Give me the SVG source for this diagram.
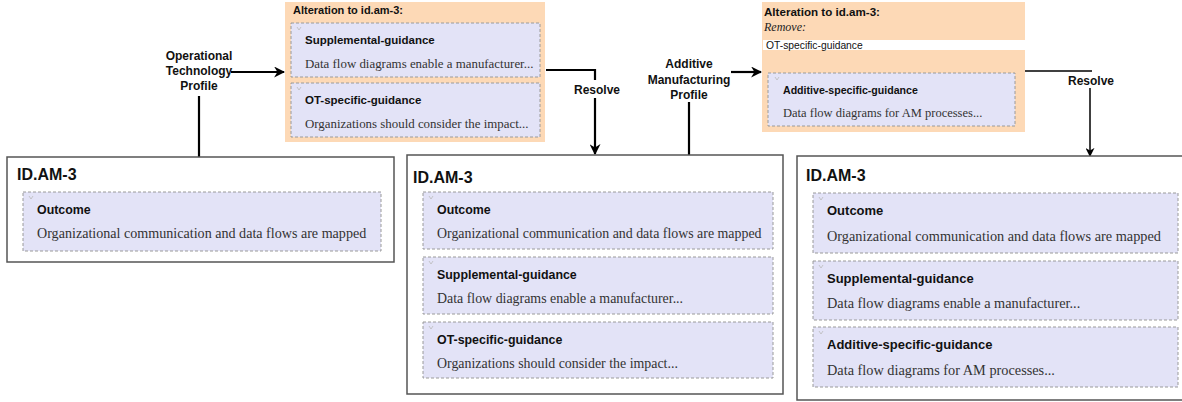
<svg xmlns="http://www.w3.org/2000/svg" width="1182" height="402" viewBox="0 0 1182 402">
<defs>
<style>
.box{fill:#fff;stroke:#555;stroke-width:1.5}
.alt{fill:#fdd9b6;stroke:none}
.pan{fill:#e3e3f7;stroke:#9a9a9a;stroke-width:1;stroke-dasharray:3 2}
.mk{fill:none;stroke:#bbb;stroke-width:0.8}
.ttl{font-family:"Liberation Sans",Arial,sans-serif;font-weight:bold;font-size:16px;fill:#111}
.hd{font-family:"Liberation Sans",Arial,sans-serif;font-weight:bold;font-size:12.4px;fill:#111}
.bd{font-family:"Liberation Serif","Times New Roman",serif;font-size:13.9px;fill:#333}
.lbl{font-family:"Liberation Sans",Arial,sans-serif;font-weight:bold;font-size:12px;fill:#111;text-anchor:middle}
.rm{font-family:"Liberation Serif","Times New Roman",serif;font-style:italic;font-size:12px;fill:#222}
.sm{font-family:"Liberation Sans",Arial,sans-serif;font-size:10.3px;fill:#111}
.thk{fill:none;stroke:#000;stroke-width:2.2}
.thn{fill:none;stroke:#000;stroke-width:1.5}
#alteration-ot .hd{font-size:11.5px}
#alteration-ot .bd{font-size:12.9px}
#alteration-ot .at{font-size:11px}
#alteration-am .hd{font-size:10.6px}
#alteration-am .bd{font-size:12.5px}
#alteration-am .at{font-size:11.6px}
#idam3-am .hd{font-size:13px}
#idam3-am .bd{font-size:14.3px}
#idam3-base .bd{font-size:14.1px}
</style>
<marker id="ah" viewBox="0 0 10 10" refX="9" refY="5" markerWidth="5" markerHeight="5" orient="auto" markerUnits="strokeWidth">
<path d="M0,0 L10,5 L0,10 L3,5 z" fill="#000"/>
</marker>
<marker id="ah2" viewBox="0 0 10 10" refX="9" refY="5" markerWidth="6" markerHeight="6" orient="auto" markerUnits="strokeWidth">
<path d="M0,0 L10,5 L0,10 L3,5 z" fill="#000"/>
</marker>
</defs>

<g id="connectors">
<path class="thk" d="M231,72 H284" marker-end="url(#ah)"/>
<path class="thk" d="M199,96 V157"/>
<path class="thk" d="M546,70 H595 V154" marker-end="url(#ah)"/>
<path class="thk" d="M731,72 H761" marker-end="url(#ah)"/>
<path class="thk" d="M689,102 V155"/>
<path class="thn" d="M1023,71 H1092"/>
<path class="thn" d="M1090,88 V156" marker-end="url(#ah2)"/>
</g>

<g id="label-ot">
<text class="lbl" x="199" y="60">Operational</text>
<text class="lbl" x="199" y="75">Technology</text>
<text class="lbl" x="199" y="90">Profile</text>
</g>

<g id="label-am">
<text class="lbl" x="689" y="68">Additive</text>
<text class="lbl" x="689" y="84">Manufacturing</text>
<text class="lbl" x="689" y="99">Profile</text>
</g>

<g id="resolve-1">
<rect x="572" y="80" width="50" height="18" fill="#fff"/>
<text class="lbl" x="597" y="94">Resolve</text>
</g>

<g id="resolve-2">
<text class="lbl" x="1091" y="85">Resolve</text>
</g>

<g id="alteration-ot">
<rect class="alt" x="285" y="2" width="260" height="140"/>
<text class="hd at" x="293" y="14">Alteration to id.am-3:</text>
<rect class="pan" x="291" y="23" width="249" height="54"/>
<path class="mk" d="M297,27 l2,3 l2,-3"/>
<text class="hd" x="305" y="44">Supplemental-guidance</text>
<text class="bd" x="305" y="68">Data flow diagrams enable a manufacturer...</text>
<rect class="pan" x="291" y="83" width="249" height="54"/>
<path class="mk" d="M297,87 l2,3 l2,-3"/>
<text class="hd" x="305" y="104">OT-specific-guidance</text>
<text class="bd" x="305" y="128">Organizations should consider the impact...</text>
</g>

<g id="alteration-am">
<rect class="alt" x="762" y="2" width="263" height="130"/>
<text class="hd at" x="764" y="16">Alteration to id.am-3:</text>
<text class="rm" x="764" y="31">Remove:</text>
<rect x="763" y="40" width="262" height="10" fill="#fff"/>
<text class="sm" x="766" y="48.5">OT-specific-guidance</text>
<rect class="pan" x="768" y="73" width="247" height="53"/>
<path class="mk" d="M775,77 l2,3 l2,-3"/>
<text class="hd" x="783" y="94">Additive-specific-guidance</text>
<text class="bd" x="783" y="117">Data flow diagrams for AM processes...</text>
</g>

<g id="idam3-base">
<rect class="box" x="7" y="157" width="387" height="105"/>
<text class="ttl" x="17" y="180">ID.AM-3</text>
<rect class="pan" x="23" y="192" width="358" height="59"/>
<path class="mk" d="M29,196 l2,3 l2,-3"/>
<text class="hd" x="37" y="214">Outcome</text>
<text class="bd" x="37" y="238">Organizational communication and data flows are mapped</text>
</g>

<g id="idam3-ot">
<rect class="box" x="407" y="155" width="376" height="239"/>
<text class="ttl" x="413" y="183">ID.AM-3</text>
<rect class="pan" x="423" y="192" width="350" height="57"/>
<path class="mk" d="M429,196 l2,3 l2,-3"/>
<text class="hd" x="437" y="214">Outcome</text>
<text class="bd" x="437" y="238">Organizational communication and data flows are mapped</text>
<rect class="pan" x="423" y="257" width="350" height="57"/>
<path class="mk" d="M429,261 l2,3 l2,-3"/>
<text class="hd" x="437" y="279">Supplemental-guidance</text>
<text class="bd" x="437" y="303">Data flow diagrams enable a manufacturer...</text>
<rect class="pan" x="423" y="322" width="350" height="56"/>
<path class="mk" d="M429,326 l2,3 l2,-3"/>
<text class="hd" x="437" y="344">OT-specific-guidance</text>
<text class="bd" x="437" y="368">Organizations should consider the impact...</text>
</g>

<g id="idam3-am">
<rect class="box" x="797" y="156" width="395" height="244"/>
<text class="ttl" x="806" y="181">ID.AM-3</text>
<rect class="pan" x="813" y="193" width="365" height="60"/>
<path class="mk" d="M819,197 l2,3 l2,-3"/>
<text class="hd" x="827" y="215">Outcome</text>
<text class="bd" x="827" y="241">Organizational communication and data flows are mapped</text>
<rect class="pan" x="813" y="261" width="365" height="59"/>
<path class="mk" d="M819,265 l2,3 l2,-3"/>
<text class="hd" x="827" y="283">Supplemental-guidance</text>
<text class="bd" x="827" y="308">Data flow diagrams enable a manufacturer...</text>
<rect class="pan" x="813" y="327" width="365" height="60"/>
<path class="mk" d="M819,331 l2,3 l2,-3"/>
<text class="hd" x="827" y="349">Additive-specific-guidance</text>
<text class="bd" x="827" y="375">Data flow diagrams for AM processes...</text>
</g>
</svg>
